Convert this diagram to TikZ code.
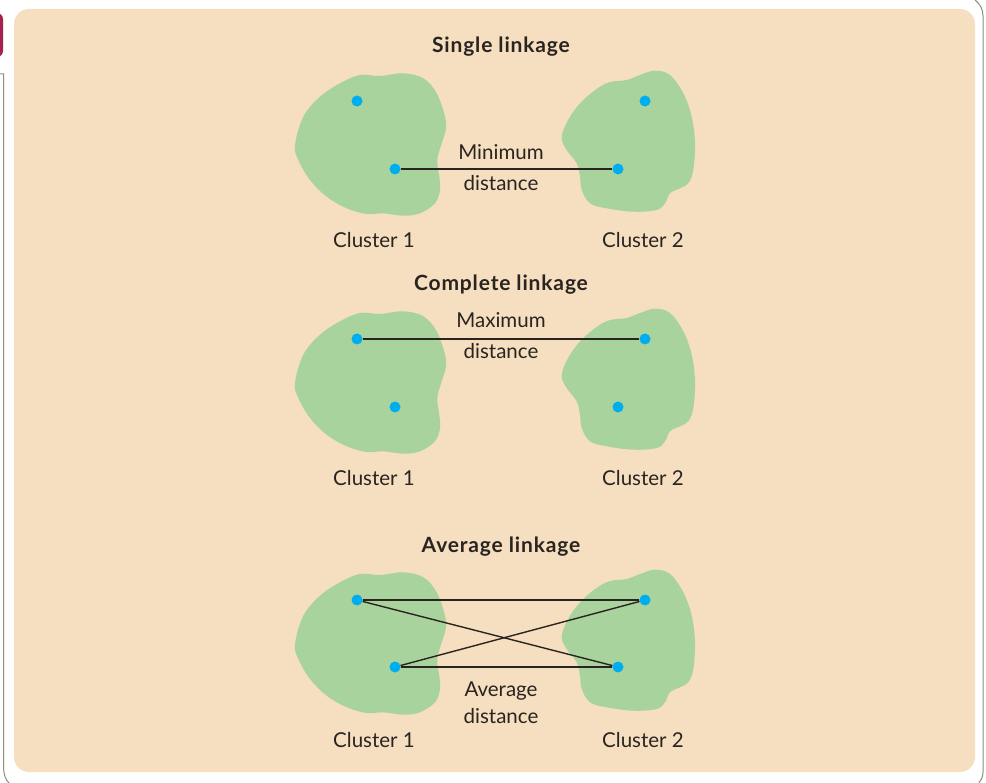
\documentclass[tikz,border=0pt]{standalone}
\usepackage{fontspec}
\setmainfont{Lato}
\definecolor{panel}{HTML}{F5DFC0}
\definecolor{blob}{HTML}{A8D39C}
\definecolor{dotc}{HTML}{00AEEF}
\definecolor{ink}{HTML}{2A2420}
\definecolor{frame}{HTML}{8C8C7C}
\definecolor{tab}{HTML}{A3224F}
\begin{document}
\begin{tikzpicture}[x=1pt,y=-1pt,
  pt/.style={circle,fill=dotc,inner sep=0pt,minimum size=11pt},
  link/.style={draw=ink,line width=1.4pt},
  lbl/.style={text=ink,font=\fontsize{20.5}{23}\selectfont,inner sep=0pt},
  ttl/.style={text=ink,font=\fontsize{21}{24}\selectfont\bfseries\addfontfeatures{LetterSpace=4},inner sep=0pt},
  blobfill/.style={fill=blob,draw=none}]
\useasboundingbox (0,0) rectangle (986,783);
% outer frame
\fill[tab,rounded corners=6pt] (-10,13) rectangle (3,57);
\draw[frame,line width=1pt] (0,74) -- (3.5,74) -- (3.5,765) .. controls (3.5,776) and (6,780) .. (9,783);
\draw[frame,line width=1pt] (975,0) .. controls (980,4) and (983,9) .. (983,16) -- (983,772) .. controls (983,777) and (981,780) .. (979,783);
% panel
\fill[panel,rounded corners=15pt] (14,9) rectangle (975,772);
\foreach \dy/\sec in {0/a,238/b,499/c}{
  \begin{scope}[yshift=-\dy pt]
  \fill[blobfill] plot[smooth cycle,tension=0.6] coordinates {
   (295,145) (303.3,116.7) (320,96.7) (340,83.3) (360,75) (380,76) (403.3,73.3)
   (423.3,78.3) (436.7,93.3) (445,116.7) (445.7,130) (441.7,143.3) (437.3,160)
   (439.3,176.7) (440,190) (435,203.3) (420,213.3) (403.3,215.7) (383.3,213.3)
   (366.7,214) (346.7,208.3) (326.7,196.7) (310,180) (298.3,160)};
  \fill[blobfill] plot[smooth cycle,tension=0.6] coordinates {
   (561.7,136.7) (570,116.7) (583.3,100) (600,86.7) (611.7,81.7) (626.7,80)
   (640,75) (655,70.7) (670,75) (683.3,93.3) (691.7,116.7) (695,143.3)
   (693.3,170) (688.3,183.3) (680,188.3) (670,193.3) (665,203.3) (656.7,210)
   (633.3,211.7) (606.7,208.3) (590,203.3) (581.7,190) (580,176.7)
   (576.7,163.3) (566.7,150)};
  \end{scope}
}
% Single linkage
\node[ttl] (t1) at (501,47) {Single linkage};
\node[pt] (a1) at (357,101) {};
\node[pt] (a2) at (395,169) {};
\node[pt] (a3) at (645,101) {};
\node[pt] (a4) at (618,169) {};
\draw[link] (a2) -- (a4);
\node[lbl] (m1) at (501,152) {Minimum};
\node[lbl] (m2) at (501,183) {distance};
\node[lbl] (c11) at (374,240) {Cluster 1};
\node[lbl] (c12) at (643,240) {Cluster 2};
% Complete linkage
\node[ttl] (t2) at (501,285) {Complete linkage};
\node[pt] (b1) at (357,339) {};
\node[pt] (b2) at (395,407) {};
\node[pt] (b3) at (645,339) {};
\node[pt] (b4) at (618,407) {};
\draw[link] (b1) -- (b3);
\node[lbl] (x1) at (501,320) {Maximum};
\node[lbl] (x2) at (501,351) {distance};
\node[lbl] (c21) at (374,478) {Cluster 1};
\node[lbl] (c22) at (643,478) {Cluster 2};
% Average linkage
\node[ttl] (t3) at (501,547) {Average linkage};
\node[pt] (d1) at (357,600) {};
\node[pt] (d2) at (395,667) {};
\node[pt] (d3) at (645,600) {};
\node[pt] (d4) at (618,667) {};
\draw[link] (d1) -- (d3);
\draw[link] (d2) -- (d4);
\draw[link] (d1) -- (d4);
\draw[link] (d2) -- (d3);
\node[lbl] (v1) at (501,691) {Average};
\node[lbl] (v2) at (501,716) {distance};
\node[lbl] (c31) at (374,740) {Cluster 1};
\node[lbl] (c32) at (643,740) {Cluster 2};
\end{tikzpicture}
\end{document}
